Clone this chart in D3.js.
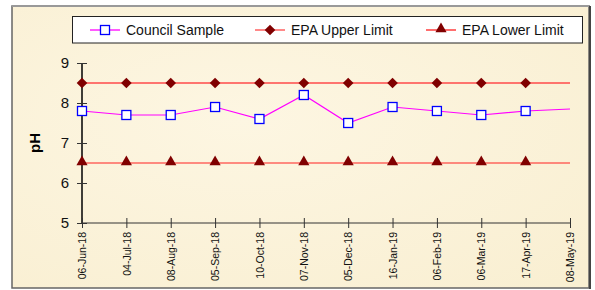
<!DOCTYPE html>
<meta charset="utf-8">
<style>
    body { margin: 0; background: #fff; }
    text { font-family: "Liberation Sans", Arial, sans-serif; }
</style>
<svg id="svg" width="595" height="290"></svg>
<script src="https://d3js.org/d3.v7.min.js"></script>
<script>

    // sample dates and values
    var dates = ["06-Jun-18", "04-Jul-18", "08-Aug-18", "05-Sep-18", "10-Oct-18", "07-Nov-18",
                 "05-Dec-18", "16-Jan-19", "06-Feb-19", "06-Mar-19", "17-Apr-19", "08-May-19"];
    var councilSample = [7.8, 7.7, 7.7, 7.9, 7.6, 8.2, 7.5, 7.9, 7.8, 7.7, 7.8, 7.85];
    var epaUpper = [8.5, 8.5, 8.5, 8.5, 8.5, 8.5, 8.5, 8.5, 8.5, 8.5, 8.5, 8.5];
    var epaLower = [6.5, 6.5, 6.5, 6.5, 6.5, 6.5, 6.5, 6.5, 6.5, 6.5, 6.5, 6.5];
    var yTicks = [5, 6, 7, 8, 9];
    // last date has a line end but no marker
    var markerCount = 11;

    var svg = d3.select("svg");

    // frame + cream background
    var defs = svg.append("defs");
    var grad = defs.append("radialGradient").attr("id", "paper").attr("cx", "40%").attr("cy", "40%").attr("r", "80%");
    grad.append("stop").attr("offset", "0%").attr("stop-color", "#fdf6e2");
    grad.append("stop").attr("offset", "100%").attr("stop-color", "#f9efd2");

    svg.append("rect")
        .attr("x", 12).attr("y", 6).attr("width", 577).attr("height", 282)
        .attr("fill", "url(#paper)")
        .attr("stroke", "#666").attr("stroke-width", 1.5);
    svg.append("line").attr("x1", 12).attr("x2", 590).attr("y1", 6).attr("y2", 6)
        .attr("stroke", "#999").attr("stroke-width", 2);
    svg.append("line").attr("x1", 590).attr("x2", 590).attr("y1", 6).attr("y2", 289)
        .attr("stroke", "#444").attr("stroke-width", 2);

    var x = d3.scalePoint().domain(dates).range([82, 570]);
    var y = d3.scaleLinear().domain([5, 9]).range([223, 63]);

    // axes
    var yAxis = svg.append("g")
        .attr("transform", "translate(82,0)")
        .call(d3.axisLeft(y).tickValues(yTicks).tickFormat(d3.format("d")).tickSize(5).tickPadding(8));
    yAxis.select(".domain").attr("stroke", "#000").attr("stroke-width", 1.5).attr("d", "M0," + y(9) + "V" + y(5));
    yAxis.selectAll(".tick line").attr("x2", 5).attr("x1", -5).attr("stroke", "#333");
    yAxis.selectAll(".tick text").attr("font-size", 15).attr("fill", "#111")
        .attr("font-family", "Liberation Sans, Arial, sans-serif");

    var xAxis = svg.append("g")
        .attr("transform", "translate(0,223)")
        .call(d3.axisBottom(x).tickSize(5).tickPadding(4));
    xAxis.select(".domain").attr("stroke", "#333").attr("stroke-width", 1).attr("d", "M82,0H570");
    xAxis.selectAll(".tick line").attr("y1", -5).attr("y2", 5).attr("stroke", "#333");
    xAxis.selectAll(".tick text")
        .attr("font-size", 10.5).attr("fill", "#111")
        .attr("font-family", "Liberation Sans, Arial, sans-serif")
        .attr("transform", "rotate(-90)")
        .attr("text-anchor", "end")
        .attr("x", -9).attr("y", 0).attr("dy", "0.35em");

    svg.append("text")
        .attr("transform", "translate(40,143) rotate(-90)")
        .attr("text-anchor", "middle")
        .attr("font-size", 15).attr("font-weight", "bold")
        .text("pH");

    var line = d3.line()
        .x(function (d, i) { return x(dates[i]); })
        .y(function (d) { return y(d); });

    svg.append("path").datum(epaUpper).attr("d", line)
        .attr("fill", "none").attr("stroke", "#ff4a4a").attr("stroke-width", 1.5);
    svg.append("path").datum(epaLower).attr("d", line)
        .attr("fill", "none").attr("stroke", "#ff2020").attr("stroke-width", 1.2);
    svg.append("path").datum(councilSample).attr("d", line)
        .attr("fill", "none").attr("stroke", "#ff00ff").attr("stroke-width", 1.2);

    var diamond = d3.symbol().type(d3.symbolDiamond2).size(72);
    var triangle = d3.symbol().type(d3.symbolTriangle2).size(90);

    svg.append("g").selectAll("path")
        .data(epaUpper.slice(0, markerCount))
        .enter().append("path")
        .attr("d", diamond)
        .attr("transform", function (d, i) { return "translate(" + x(dates[i]) + "," + y(d) + ")"; })
        .attr("fill", "#800000");

    svg.append("g").selectAll("path")
        .data(epaLower.slice(0, markerCount))
        .enter().append("path")
        .attr("d", triangle)
        .attr("transform", function (d, i) { return "translate(" + x(dates[i]) + "," + (y(d) - 1) + ")"; })
        .attr("fill", "#800000");

    svg.append("g").selectAll("rect")
        .data(councilSample.slice(0, markerCount))
        .enter().append("rect")
        .attr("x", function (d, i) { return x(dates[i]) - 4.5; })
        .attr("y", function (d) { return y(d) - 4.5; })
        .attr("width", 9).attr("height", 9)
        .attr("fill", "#fff").attr("stroke", "#0000ff").attr("stroke-width", 1.3);

    // legend
    var legend = svg.append("g");
    legend.append("rect")
        .attr("x", 72.5).attr("y", 16.5).attr("width", 510).attr("height", 26.5)
        .attr("fill", "#fff").attr("stroke", "#222").attr("stroke-width", 1);

    var items = [
        {name: "Council Sample", x: 90, color: "#ff00ff", marker: "square"},
        {name: "EPA Upper Limit", x: 255, color: "#ff4a4a", marker: "diamond"},
        {name: "EPA Lower Limit", x: 426, color: "#ff2020", marker: "triangle"}
    ];
    var li = legend.selectAll("g.item").data(items).enter().append("g").attr("class", "item")
        .attr("transform", function (d) { return "translate(" + d.x + ",30)"; });
    li.append("line").attr("x1", 0).attr("x2", 30).attr("stroke", function (d) { return d.color; }).attr("stroke-width", 1.3);
    li.each(function (d) {
        var g = d3.select(this);
        if (d.marker === "square") {
            g.append("rect").attr("x", 10.5).attr("y", -4.5).attr("width", 9).attr("height", 9)
                .attr("fill", "#fff").attr("stroke", "#0000ff").attr("stroke-width", 1.3);
        } else if (d.marker === "diamond") {
            g.append("path").attr("d", diamond).attr("transform", "translate(15,0)").attr("fill", "#800000");
        } else {
            g.append("path").attr("d", triangle).attr("transform", "translate(15,-1)").attr("fill", "#800000");
        }
    });
    li.append("text").attr("x", 36).attr("dy", "0.36em").attr("font-size", 14).attr("fill", "#111")
        .text(function (d) { return d.name; });

</script>
